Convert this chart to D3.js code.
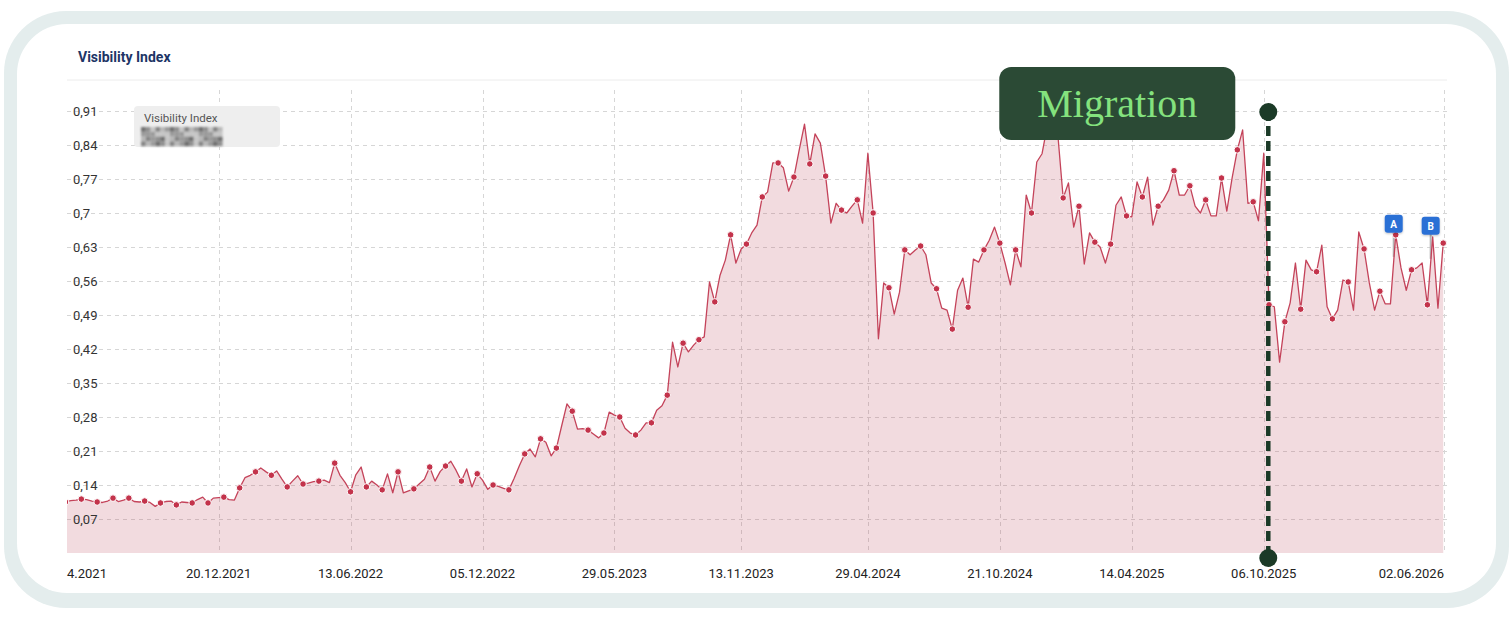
<!DOCTYPE html>
<html><head><meta charset="utf-8">
<script src="https://cdn.jsdelivr.net/npm/d3@7"></script>
<style>
html,body{margin:0;padding:0;background:#fff;}
svg{display:block;font-family:Roboto,"Noto Sans",sans-serif;}
</style></head>
<body>
<svg id="chart" width="1512" height="624"></svg>
<script>
// ---------- data ----------
const chartTitle = "Visibility Index";
const seriesName = "Visibility Index";
const startDate = "2021-05-31";          // first weekly data point
const domainDates = ["2021-06-02", "2026-06-06"];
const values = [
  0.105,0.108,0.109,0.111,0.110,0.107,0.105,0.104,0.107,0.113,
  0.106,0.109,0.113,0.106,0.105,0.107,0.104,0.096,0.103,0.106,
  0.107,0.099,0.105,0.104,0.103,0.110,0.115,0.103,0.113,0.114,
  0.115,0.110,0.109,0.134,0.155,0.160,0.167,0.175,0.167,0.160,
  0.169,0.152,0.136,0.148,0.159,0.142,0.144,0.147,0.148,0.150,
  0.145,0.185,0.160,0.145,0.126,0.161,0.177,0.136,0.148,0.140,
  0.130,0.163,0.124,0.167,0.124,0.128,0.132,0.142,0.152,0.177,
  0.148,0.168,0.179,0.189,0.170,0.148,0.173,0.136,0.163,0.150,
  0.131,0.140,0.137,0.133,0.130,0.154,0.180,0.204,0.214,0.198,
  0.235,0.228,0.200,0.216,0.262,0.307,0.292,0.255,0.256,0.253,
  0.245,0.237,0.247,0.290,0.284,0.280,0.257,0.247,0.243,0.253,
  0.268,0.268,0.294,0.303,0.325,0.434,0.383,0.432,0.414,0.428,
  0.439,0.445,0.558,0.517,0.572,0.603,0.655,0.597,0.626,0.636,
  0.659,0.675,0.733,0.743,0.803,0.803,0.793,0.745,0.774,0.830,
  0.883,0.801,0.863,0.844,0.776,0.679,0.720,0.706,0.700,0.714,
  0.727,0.679,0.823,0.700,0.441,0.556,0.546,0.492,0.537,0.624,
  0.614,0.624,0.632,0.614,0.556,0.544,0.504,0.500,0.461,0.541,
  0.566,0.506,0.605,0.599,0.624,0.644,0.671,0.638,0.597,0.552,
  0.624,0.589,0.737,0.700,0.805,0.822,0.880,0.900,0.860,0.731,
  0.762,0.671,0.714,0.595,0.659,0.640,0.630,0.597,0.636,0.716,
  0.733,0.694,0.692,0.764,0.733,0.774,0.675,0.714,0.727,0.747,
  0.787,0.737,0.737,0.756,0.714,0.700,0.727,0.694,0.694,0.772,
  0.704,0.772,0.830,0.871,0.720,0.723,0.684,0.823,0.511,0.507,
  0.393,0.476,0.515,0.597,0.502,0.603,0.583,0.579,0.634,0.507,
  0.482,0.500,0.562,0.558,0.500,0.661,0.626,0.556,0.500,0.539,
  0.513,0.513,0.655,0.587,0.541,0.583,0.587,0.597,0.511,0.651,
  0.504,0.638
];
const yTicks = [0.07,0.14,0.21,0.28,0.35,0.42,0.49,0.56,0.63,0.7,0.77,0.84,0.91];
const yTickLabels = ["0,07","0,14","0,21","0,28","0,35","0,42","0,49","0,56","0,63","0,7","0,77","0,84","0,91"];
const xTickDates = ["2021-06-02","2021-12-20","2022-06-13","2022-12-05","2023-05-29","2023-11-13","2024-04-29","2024-10-21","2025-04-14","2025-10-06","2026-06-02"];
const xTickLabels = ["4.2021","20.12.2021","13.06.2022","05.12.2022","29.05.2023","13.11.2023","29.04.2024","21.10.2024","14.04.2025","06.10.2025","02.06.2026"];
const migrationDate = "2025-10-12";
const migrationLabel = "Migration";
const flagLabels = ["A","B"];
const flagDates = ["2026-03-30","2026-05-18"];

// ---------- setup ----------
const svg = d3.select("#chart");
const parse = d3.utcParse("%Y-%m-%d");
const t0 = parse(startDate);
const data = values.map((v,i)=>({date:d3.utcDay.offset(t0, 7*i), value:v, i}));
const P = {left:67, right:1447, top:90, bottom:553};
const x = d3.scaleUtc().domain(domainDates.map(parse)).range([P.left, P.right]);
const y = d3.scaleLinear().domain([0,0.91]).range([553,111]);

const defs = svg.append("defs");
defs.append("clipPath").attr("id","plotclip").append("rect")
  .attr("x",P.left).attr("y",60).attr("width",P.right-P.left).attr("height",P.bottom-60+1);
const blur = defs.append("filter").attr("id","blur").attr("x","-10%").attr("y","-10%").attr("width","120%").attr("height","120%");
blur.append("feGaussianBlur").attr("stdDeviation",1.1);
const sh = defs.append("filter").attr("id","shadow").attr("x","-20%").attr("y","-20%").attr("width","140%").attr("height","160%");
sh.append("feDropShadow").attr("dx",0).attr("dy",1).attr("stdDeviation",1).attr("flood-color","#000").attr("flood-opacity",0.25);

// frame
svg.append("rect").attr("x",4).attr("y",11).attr("width",1505).attr("height",597).attr("rx",62).attr("fill","#e4eded");
svg.append("rect").attr("x",17).attr("y",24).attr("width",1479).attr("height",569).attr("rx",50).attr("fill","#fff");

// title
svg.append("text").attr("x",78).attr("y",62).attr("font-size",14).attr("font-weight",700)
  .attr("fill","#1d3566").text(chartTitle);
svg.append("line").attr("x1",P.left).attr("x2",P.right).attr("y1",80).attr("y2",80)
  .attr("stroke","#ececec").attr("stroke-width",1);

// grid
const grid = svg.append("g");
grid.selectAll("line.h").data(yTicks).join("line").attr("class","h")
  .attr("x1",P.left).attr("x2",P.right).attr("y1",d=>Math.round(y(d))+0.5).attr("y2",d=>Math.round(y(d))+0.5)
  .attr("stroke","#d6d6d6").attr("stroke-dasharray","4,4");
grid.selectAll("line.v").data(xTickDates.slice(1)).join("line").attr("class","v")
  .attr("x1",d=>Math.round(x(parse(d)))+0.5).attr("x2",d=>Math.round(x(parse(d)))+0.5)
  .attr("y1",P.top).attr("y2",P.bottom)
  .attr("stroke","#d6d6d6").attr("stroke-dasharray","4,4");

// x labels
svg.append("g").selectAll("text").data(xTickDates).join("text")
  .attr("x",(d,i)=> i===0 ? P.left : x(parse(d)))
  .attr("y",578).attr("font-size",13).attr("fill","#222")
  .attr("text-anchor",(d,i)=> i===0 ? "start" : (i===xTickDates.length-1 ? "end" : "middle"))
  .text((d,i)=>xTickLabels[i]);

// flag poles (behind line)
const flags = flagDates.map((d,k)=>{
  const dt = parse(d);
  const pt = data.find(p=>+p.date===+dt);
  return {label:flagLabels[k], date:dt, value:pt.value};
});
const plotG = svg.append("g").attr("clip-path","url(#plotclip)");
plotG.selectAll("line.pole").data(flags).join("line").attr("class","pole")
  .attr("x1",d=>x(d.date)-2).attr("x2",d=>x(d.date)-2)
  .attr("y1",d=>y(d.value)-4).attr("y2",d=>y(d.value)+22)
  .attr("stroke","#b5b5b5").attr("stroke-width",2);

// area + line
const area = d3.area().x(d=>x(d.date)).y0(y(0)).y1(d=>y(d.value));
const line = d3.line().x(d=>x(d.date)).y(d=>y(d.value));
plotG.append("path").datum(data).attr("d",area).attr("fill","rgba(185,65,85,0.19)");
plotG.append("path").datum(data).attr("d",line).attr("fill","none")
  .attr("stroke","#c4435a").attr("stroke-width",1.3).attr("stroke-linejoin","round");
plotG.selectAll("circle.pt").data(data.filter(d=>d.i%3===0)).join("circle").attr("class","pt")
  .attr("cx",d=>x(d.date)).attr("cy",d=>y(d.value)).attr("r",3.3)
  .attr("fill","#c3334b").attr("stroke","#fff").attr("stroke-width",1);

// y labels (on top of the plot)
svg.append("g").selectAll("text").data(yTicks).join("text")
  .attr("x",73).attr("y",d=>y(d)+4.5).attr("font-size",13).attr("fill","#333")
  .text((d,i)=>yTickLabels[i]);

// legend box
const lg = svg.append("g");
lg.append("rect").attr("x",134).attr("y",106).attr("width",146).attr("height",41).attr("rx",4).attr("fill","#eeeeee");
lg.append("text").attr("x",144).attr("y",122).attr("font-size",11.5).attr("fill","#555").text(seriesName);
const mg = lg.append("g").attr("filter","url(#blur)");
const shades = ["#6f6f6f","#9a9a9a","#b8b8b8","#848484","#c6c6c6","#8f8f8f"];
for (let r=0;r<4;r++) for (let c=0;c<17;c++) {
  mg.append("rect").attr("x",141+c*4.8).attr("y",127+r*4.8).attr("width",4.8).attr("height",4.8)
    .attr("fill",shades[(c*5 + r*7 + (c*r)%3) % shades.length]);
}

// flags
const fg = svg.append("g");
flags.forEach(f=>{
  const fx = x(f.date)-2, fy = y(f.value);
  fg.append("rect").attr("x",fx-9).attr("y",fy-20).attr("width",18).attr("height",18).attr("rx",3)
    .attr("fill","#2c6fd5").attr("filter","url(#shadow)");
  fg.append("text").attr("x",fx).attr("y",fy-7).attr("text-anchor","middle")
    .attr("font-size",10).attr("font-weight",700).attr("fill","#fff").text(f.label);
});

// migration marker
const mx = x(parse(migrationDate));
const mgG = svg.append("g");
mgG.append("line").attr("x1",mx).attr("x2",mx).attr("y1",y(0.91)).attr("y2",558)
  .attr("stroke","#1b3a27").attr("stroke-width",4.5).attr("stroke-dasharray","10,5");
mgG.append("circle").attr("cx",mx).attr("cy",y(0.91)+1).attr("r",9).attr("fill","#1b3a27");
mgG.append("circle").attr("cx",mx).attr("cy",558).attr("r",9).attr("fill","#1b3a27");
mgG.append("rect").attr("x",mx-269).attr("y",67).attr("width",236).attr("height",73).attr("rx",12)
  .attr("fill","#2b4a35");
mgG.append("text").attr("x",mx-151).attr("y",117).attr("text-anchor","middle")
  .attr("font-family","'Liberation Serif','DejaVu Serif',serif").attr("font-size",40)
  .attr("fill","#84e27e").text(migrationLabel);
</script>
</body></html>
